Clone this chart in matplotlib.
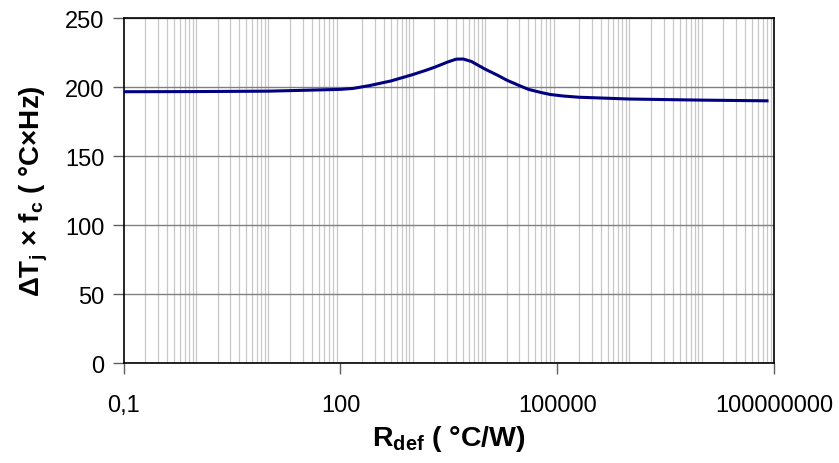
import matplotlib
matplotlib.use("Agg")
import matplotlib.pyplot as plt
from matplotlib.ticker import LogLocator, FixedLocator, NullFormatter

# data
r_def = [0.1, 1, 10, 30, 100, 150, 250, 500, 1000, 1500, 2000, 2500, 3000, 4000, 5000,
         6500, 10000, 15000, 20000, 30000, 40000, 60000, 80000, 120000, 200000,
         1e6, 1e7, 8e7]
dtj_fc = [196.6, 196.7, 197.0, 197.6, 198.3, 199.0, 201.0, 204.4, 209.0, 212.0, 214.3, 216.3,
          218.0, 220.2, 220.3, 218.5, 213.0, 208.5, 205.0, 201.0, 198.3, 196.0, 194.6, 193.5,
          192.6, 191.3, 190.5, 190.0]
x_ticks = [0.1, 100, 1e5, 1e8]
x_labels = ["0,1", "100", "100000", "100000000"]
y_ticks = [0, 50, 100, 150, 200, 250]

plt.rcParams['font.family'] = ['Liberation Sans', 'DejaVu Sans']
plt.rcParams['mathtext.fontset'] = 'custom'
plt.rcParams['mathtext.rm'] = 'Liberation Sans:bold'
plt.rcParams['mathtext.bf'] = 'Liberation Sans:bold'
plt.rcParams['mathtext.default'] = 'bf'

fig = plt.figure(figsize=(8.39, 4.64), dpi=100)
ax = fig.add_axes([0.1474, 0.2155, 0.7751, 0.7435])

ax.plot(r_def, dtj_fc, color='#000080', lw=2.2, zorder=3)

ax.set_xscale('log')
ax.set_xlim(0.1, 1e8)
ax.set_ylim(0, 250)

ax.xaxis.set_major_locator(FixedLocator(x_ticks))
ax.set_xticklabels(x_labels)
ax.xaxis.set_minor_locator(LogLocator(base=10, subs=range(1, 10), numticks=100))
ax.xaxis.set_minor_formatter(NullFormatter())
ax.set_yticks(y_ticks)

ax.grid(True, which='minor', axis='x', color='#c8c8c8', lw=0.9)
ax.grid(True, which='major', axis='y', color='#808080', lw=1.0)
ax.tick_params(axis='x', which='minor', length=0)
ax.tick_params(axis='both', which='major', length=8, width=1, labelsize=17,
               color='#606060', direction='out')
ax.tick_params(axis='x', which='major', pad=14)
ax.tick_params(axis='y', which='major', pad=6)
for s in ax.spines.values():
    s.set_color('black')
    s.set_linewidth(1.2)

ax.set_xlabel(r'R$_{def}$ ( °C/W)', fontsize=20.5, fontweight='bold', labelpad=5)
ax.set_ylabel(r'$\Delta$T$_j$ × f$_c$ ( °C×Hz)', fontsize=20, fontweight='bold', labelpad=11)

fig.savefig('out.png', dpi=100)
